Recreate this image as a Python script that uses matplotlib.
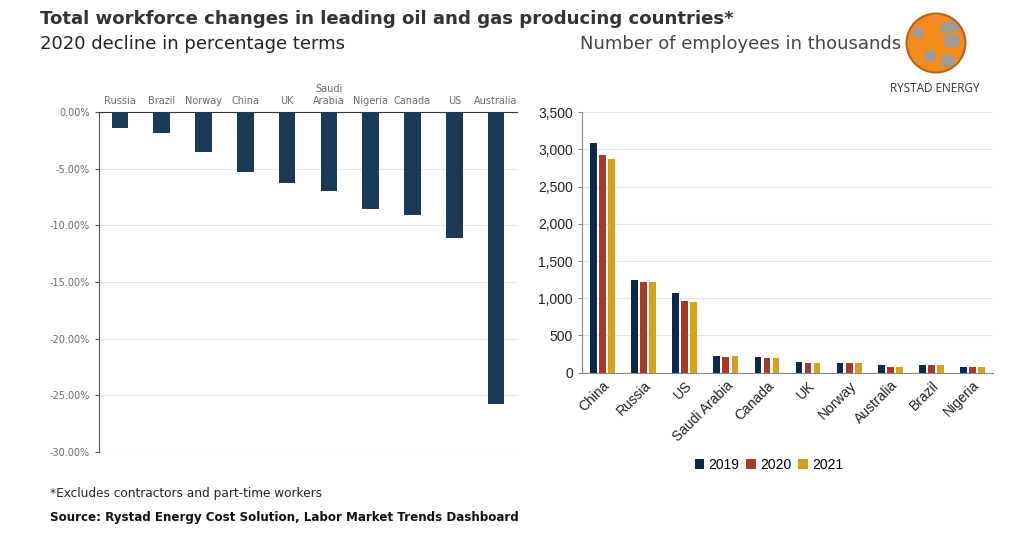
import numpy as np
import matplotlib
matplotlib.use("Agg")
import matplotlib.pyplot as plt
from matplotlib.patches import Circle, Rectangle
from matplotlib.ticker import FuncFormatter, StrMethodFormatter

# Dados - painel esquerdo (queda em 2020, %)
paises_queda = ["Russia", "Brazil", "Norway", "China", "UK", "Saudi\nArabia",
                "Nigeria", "Canada", "US", "Australia"]
queda_2020 = [-1.45, -1.83, -3.5, -5.27, -6.27, -6.95, -8.57, -9.12, -11.1, -25.75]

# Dados - painel direito (empregados, milhares)
paises_emp = ["China", "Russia", "US", "Saudi Arabia", "Canada", "UK", "Norway",
              "Australia", "Brazil", "Nigeria"]
anos = ["2019", "2020", "2021"]
emp_2019 = [3088, 1242, 1076, 229, 211, 143, 134, 108, 99, 81]
emp_2020 = [2927, 1224, 959, 215, 193, 134, 134, 81, 99, 72]
emp_2021 = [2869, 1224, 950, 220, 197, 134, 130, 81, 103, 81]

cores = ["#0d2a4a", "#a33a2a", "#d4a020"]
azul = "#1b3a58"
cinza_txt = "#6b6b6b"
grade = "#e4e4e4"

fig = plt.figure(figsize=(10.24, 5.41), dpi=100)
fig.patch.set_facecolor("white")

# Titulos
fig.text(40/1024, 1-19/541, "Total workforce changes in leading oil and gas producing countries*",
         fontsize=13.1, fontweight="bold", color="#333333", va="center", ha="left")
fig.text(40/1024, 1-44/541, "2020 decline in percentage terms",
         fontsize=13, color="#222222", va="center", ha="left")
fig.text(580/1024, 1-44/541, "Number of employees in thousands",
         fontsize=13, color="#444444", va="center", ha="left")

# Painel esquerdo
ax1 = fig.add_axes([99/1024, 1-452/541, (517-99)/1024, (452-112)/541])
x1 = np.arange(len(paises_queda))
ax1.bar(x1, queda_2020, width=0.4, color=azul, zorder=3)
ax1.set_ylim(-30, 0)
ax1.set_xlim(-0.5, len(paises_queda)-0.5)
ax1.set_yticks(np.arange(-30, 1, 5))
ax1.yaxis.set_major_formatter(FuncFormatter(lambda v, p: f"{v:.2f}%"))
ax1.grid(axis="y", color=grade, lw=0.8, zorder=0)
ax1.xaxis.tick_top()
ax1.set_xticks(x1)
ax1.set_xticklabels(paises_queda, fontsize=7, color=cinza_txt, linespacing=1.3)
ax1.tick_params(axis="x", length=0, pad=4)
ax1.tick_params(axis="y", labelsize=7, labelcolor=cinza_txt, length=3, color="#555555")
for s in ["right", "bottom"]:
    ax1.spines[s].set_visible(False)
ax1.spines["left"].set_color("#555555")
ax1.spines["top"].set_color("#333333")
ax1.spines["left"].set_linewidth(0.8)
ax1.spines["top"].set_linewidth(0.8)

# Painel direito
ax2 = fig.add_axes([582/1024, 1-372.7/541, (993-582)/1024, (372.7-112.3)/541])
x2 = np.arange(len(paises_emp))
series = [emp_2019, emp_2020, emp_2021]
for i, (ano, vals) in enumerate(zip(anos, series)):
    ax2.bar(x2 + (i-1)*0.22, vals, width=0.165, color=cores[i], label=ano, zorder=3)
ax2.set_ylim(0, 3500)
ax2.set_xlim(-0.5, len(paises_emp)-0.5)
ax2.set_yticks(np.arange(0, 3501, 500))
ax2.yaxis.set_major_formatter(StrMethodFormatter("{x:,.0f}"))
ax2.grid(axis="y", color=grade, lw=0.8, zorder=0)
ax2.set_xticks(x2)
ax2.set_xticklabels(paises_emp, rotation=45, ha="right", rotation_mode="anchor",
                    fontsize=10, family="Liberation Sans", color="#222222")
for lab in ax2.get_yticklabels():
    lab.set_family("Liberation Sans")
ax2.tick_params(axis="y", labelsize=10, labelcolor="#222222", length=3, color="#888888")
ax2.tick_params(axis="x", length=0, pad=4)
for s in ["right", "top"]:
    ax2.spines[s].set_visible(False)
ax2.spines["left"].set_color("#888888")
ax2.spines["bottom"].set_color("#888888")
ax2.legend(loc="center", bbox_to_anchor=(0.455, -0.355), ncol=3, frameon=False,
           handlelength=0.7, handleheight=0.7, handletextpad=0.3, columnspacing=0.5,
           prop={"family": "Liberation Sans", "size": 10})

# Notas
fig.text(50/1024, 1-494/541, "*Excludes contractors and part-time workers",
         fontsize=8.7, color="#222222", va="center", ha="left")
fig.text(50/1024, 1-517/541, "Source: Rystad Energy Cost Solution, Labor Market Trends Dashboard",
         fontsize=8.6, fontweight="bold", color="#111111", va="center", ha="left")

# Logo
axl = fig.add_axes([905/1024, 1-74/541, 62/1024, 62/541])
axl.set_xlim(-1, 1)
axl.set_ylim(-1, 1)
axl.set_aspect("equal")
axl.axis("off")
globo = Circle((0, 0), 0.95, color="#f28a1e", zorder=1)
axl.add_patch(globo)
for (x0, y0, w, h) in [(0.15, 0.35, 0.35, 0.3), (0.3, -0.1, 0.4, 0.35), (-0.35, -0.55, 0.3, 0.3),
                       (0.45, 0.45, 0.3, 0.3), (-0.7, 0.2, 0.25, 0.3), (0.2, -0.7, 0.35, 0.3)]:
    r = Rectangle((x0, y0), w, h, color="#9a9a9a", zorder=2)
    r.set_clip_path(globo)
    axl.add_patch(r)
axl.add_patch(Circle((0, 0), 0.95, fill=False, ec="#b5651d", lw=1.5, zorder=3))
fig.text(935/1024, 1-88/541, "RYSTAD ENERGY", fontsize=8.5, color="#333333",
         ha="center", va="center", family="Open Sans")

fig.savefig("out.png", dpi=100)
